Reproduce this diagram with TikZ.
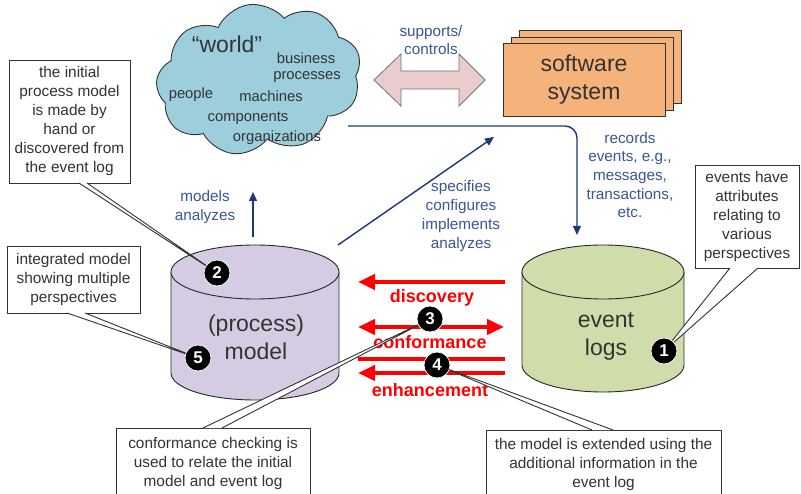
\documentclass[tikz,border=0pt]{standalone}
\usepackage{fontspec}
\setmainfont{Liberation Sans}
\usetikzlibrary{shapes.symbols,arrows.meta}
\definecolor{cloudblue}{RGB}{156,206,220}
\definecolor{orangec}{RGB}{246,178,123}
\definecolor{lavc}{RGB}{213,203,226}
\definecolor{greenc}{RGB}{207,221,171}
\definecolor{pinkc}{RGB}{234,204,204}
\definecolor{lineblue}{RGB}{28,56,120}
\definecolor{labelblue}{RGB}{58,86,148}
\definecolor{redc}{RGB}{255,0,0}
\definecolor{textgray}{RGB}{51,51,51}
\begin{document}
\begin{tikzpicture}[x=1pt,y=-1pt,
  bigtxt/.style={font=\fontsize{23}{28}\selectfont, align=center, text=textgray, inner sep=0},
  cloudtxt/.style={font=\fontsize{14.8}{18}\selectfont, text=textgray, inner sep=0},
  bluetxt/.style={font=\fontsize{15.3}{18.7}\selectfont, align=center, text=labelblue, inner sep=0},
  redtxt/.style={font=\bfseries\fontsize{18}{20}\selectfont, text=redc, inner sep=0},
  note/.style={draw=textgray, fill=white, line width=0.9pt, inner sep=0, align=center,
    font=\fontsize{15.4}{19}\selectfont, text=textgray},
  badge/.style={circle, fill=black, draw=white, line width=0.7pt, minimum size=26pt, inner sep=0,
    text=white, font=\bfseries\fontsize{17}{17}\selectfont},
  bluearrow/.style={draw=lineblue, line width=1.4pt, -{Triangle[length=9pt,width=8pt]}},
  redarrow/.style={draw=redc, line width=4pt, -{Triangle[length=17pt,width=15pt]}},
  redboth/.style={draw=redc, line width=4pt, {Triangle[length=17pt,width=15pt]}-{Triangle[length=17pt,width=15pt]}},
  redline/.style={draw=redc, line width=4pt},
  swbox/.style={draw=textgray, fill=orangec, line width=0.9pt, minimum width=162pt, minimum height=73pt, inner sep=0},
  cylline/.style={draw=black!85, line width=0.9pt},
  tail/.style={draw=textgray, line width=0.9pt, fill=white, line join=miter}
]
\useasboundingbox (0,0) rectangle (801,494);

% cloud
\node[cloud, cloud puffs=9, cloud puff arc=115, cloud ignores aspect, draw=black!80, line width=0.9pt,
  fill=cloudblue, minimum width=206pt, minimum height=150pt, inner sep=0, rotate=8] (world) at (259,79) {};
\node[font=\fontsize{23}{23}\selectfont, text=textgray, inner sep=0] (wtitle) at (227,44) {“world”};
\node[cloudtxt] (wbus) at (306,58) {business};
\node[cloudtxt] (wproc) at (307,77) {processes};
\node[cloudtxt] (wpeople) at (191,95) {people};
\node[cloudtxt] (wmach) at (271,96) {machines};
\node[cloudtxt] (wcomp) at (248,118) {components};
\node[cloudtxt] (worg) at (277,138) {organizations};

% software system
\node[swbox] (swback) at (600,67) {};
\node[swbox] (swmid) at (592,73.5) {};
\node[swbox] (swfront) at (584,79.5) {};
\node[bigtxt] (swtxt) at (584,80) {software\\system};

% pink double arrow
\filldraw[fill=pinkc, draw=black!55, line width=0.8pt] (374,80) -- (401,54) -- (401,71) -- (459,71)
  -- (459,54) -- (485,80) -- (459,106) -- (459,89) -- (401,89) -- (401,106) -- cycle;
\node[bluetxt] (supp) at (431,40) {supports/\\controls};

% blue connectors
\coordinate (recstart) at (348,126);
\coordinate (recend) at (577,235);
\draw[bluearrow, rounded corners=12pt] (recstart) -| (recend);
\node[bluetxt] (rec) at (630,175) {records\\events, e.g.,\\messages,\\transactions,\\etc.};
\coordinate (modbot) at (253,237);
\coordinate (modtip) at (253,192);
\draw[bluearrow] (modbot) -- (modtip);
\node[bluetxt] (modlbl) at (205,207) {models\\analyzes};
\coordinate (diagstart) at (338,245);
\coordinate (diagtip) at (494,137);
\draw[bluearrow] (diagstart) -- (diagtip);
\node[bluetxt] (speclbl) at (461,216) {specifies\\configures\\implements\\analyzes};

% process model cylinder
\fill[lavc] (171,272) rectangle (339,373);
\fill[lavc] (255,373) ellipse [x radius=84pt, y radius=27pt];
\draw[cylline] (171,272) -- (171,373) arc[start angle=180, end angle=360, x radius=84pt, y radius=27pt] -- (339,272);
\draw[cylline, fill=lavc] (255,272) ellipse [x radius=84pt, y radius=27pt];
\node[bigtxt] (pm) at (256,337) {(process)\\model};

% event logs cylinder
\fill[greenc] (522,272) rectangle (684,365);
\fill[greenc] (603,365) ellipse [x radius=81pt, y radius=27pt];
\draw[cylline] (522,272) -- (522,365) arc[start angle=180, end angle=360, x radius=81pt, y radius=27pt] -- (684,272);
\draw[cylline, fill=greenc] (603,272) ellipse [x radius=81pt, y radius=27pt];
\node[bigtxt] (el) at (606,336) {event\\logs};

% red arrows
\coordinate (discR) at (505,282); \coordinate (discL) at (358,282);
\draw[redarrow] (discR) -- (discL);
\node[redtxt] (disc) at (432,298) {discovery};
\coordinate (confL) at (358,327); \coordinate (confR) at (504,327);
\draw[redboth] (confL) -- (confR);
\node[redtxt] (conf) at (430,342) {conformance};
\coordinate (enhAL) at (358,359); \coordinate (enhAR) at (505,359);
\draw[redline] (enhAL) -- (enhAR);
\coordinate (enhBR) at (505,373); \coordinate (enhBL) at (358,373);
\draw[redarrow] (enhBR) -- (enhBL);
\node[redtxt] (enh) at (430,390) {enhancement};

% callouts
\node[note, minimum width=121pt, minimum height=123pt] (noteA) at (69.5,121.5)
  {the initial\\process model\\is made by\\hand or\\discovered from\\the event log};
\node[note, minimum width=133pt, minimum height=67pt] (noteB) at (73.5,279.5)
  {integrated model\\showing multiple\\perspectives};
\node[note, minimum width=194pt, minimum height=72pt] (noteC) at (213,464)
  {conformance checking is\\used to relate the initial\\model and event log};
\node[note, minimum width=235pt, minimum height=70pt] (noteD) at (603.5,465)
  {the model is extended using the\\additional information in the\\event log};
\node[note, minimum width=104pt, minimum height=103pt] (noteE) at (747,216.5)
  {events have\\attributes\\relating to\\various\\perspectives};

% badges positions
\coordinate (pb1) at (664,351);
\coordinate (pb2) at (217,273);
\coordinate (pb3) at (430,319);
\coordinate (pb4) at (437,365);
\coordinate (pb5) at (198,358);

% tails
\coordinate (tA1) at (79,183); \coordinate (tA2) at (87,183);
\draw[tail] (tA1) -- (pb2) -- (tA2);
\coordinate (tB1) at (67,313); \coordinate (tB2) at (85,313);
\draw[tail] (tB1) -- (pb5) -- (tB2);
\coordinate (tC1) at (203,428); \coordinate (tC2) at (222,428);
\draw[tail] (tC1) -- (pb3) -- (tC2);
\coordinate (tD1) at (592,430); \coordinate (tD2) at (613,430);
\draw[tail] (tD1) -- (pb4) -- (tD2);
\coordinate (tE1) at (730,268); \coordinate (tE2) at (758,268);
\draw[tail] (tE1) -- (pb1) -- (tE2);

% badges
\node[badge] (b1) at (pb1) {1};
\node[badge] (b2) at (pb2) {2};
\node[badge] (b3) at (pb3) {3};
\node[badge] (b4) at (pb4) {4};
\node[badge] (b5) at (pb5) {5};
\end{tikzpicture}
\end{document}
